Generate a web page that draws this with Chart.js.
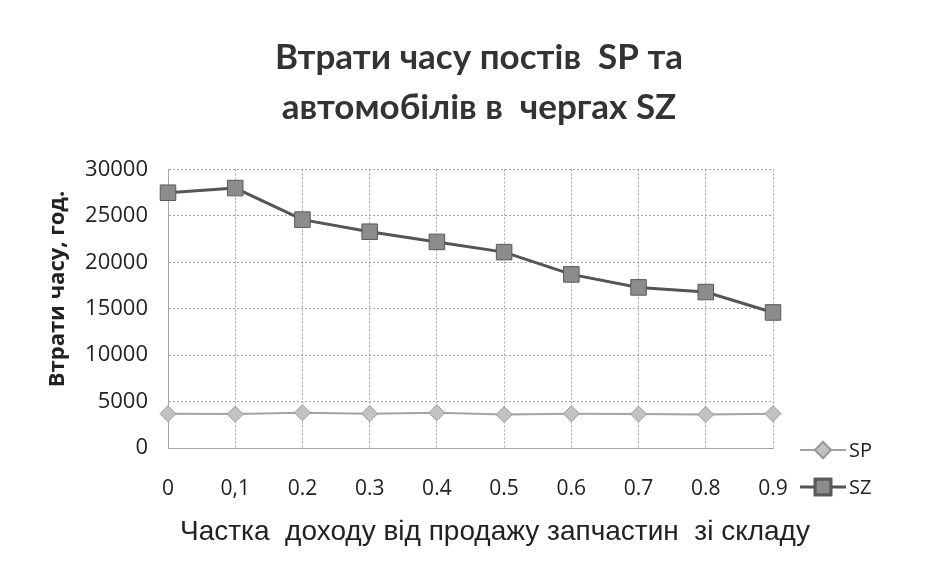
<!DOCTYPE html>
<html>
<head>
<meta charset="utf-8">
<script src="https://cdn.jsdelivr.net/npm/chart.js@4/dist/chart.umd.min.js"></script>
<style>
    html, body { margin: 0; padding: 0; background: #fff; }
    #wrap { width: 926px; height: 564px; }
</style>
</head>
<body>
<div id="wrap"><canvas id="lossChart" width="926" height="564"></canvas></div>
<script>
// x categories (labels kept as printed in the source, incl. "0,1")
const shares = ['0', '0,1', '0.2', '0.3', '0.4', '0.5', '0.6', '0.7', '0.8', '0.9'];
// time losses, hours
const spLoss = [3700, 3650, 3800, 3700, 3800, 3600, 3700, 3650, 3600, 3700];
const szLoss = [27500, 28000, 24600, 23300, 22200, 21100, 18700, 17300, 16800, 14600];
const titleLines = ['Втрати часу постів  SP та', 'автомобілів в  чергах SZ'];
const yTitle = 'Втрати часу, год.';
const xTitle = 'Частка  доходу від продажу запчастин  зі складу';

const gridColor = '#a5a5a5';

// axis titles are placed off-centre in the original, so they are drawn here
const axisTitles = {
    id: 'axisTitles',
    afterDraw(chart) {
        const { ctx } = chart;
        ctx.save();
        ctx.fillStyle = '#222';
        ctx.textAlign = 'center';
        ctx.textBaseline = 'middle';
        ctx.font = '28px "Liberation Sans"';
        ctx.fillText(xTitle, 495, 532);
        ctx.translate(58, 289);
        ctx.rotate(-Math.PI / 2);
        ctx.font = 'bold 22px "Open Sans"';
        ctx.fillText(yTitle, 0, 0);
        ctx.restore();
    }
};

// legend sits at the right, below the middle of the plot, like the original
const sideLegend = {
    id: 'sideLegend',
    afterDraw(chart) {
        const { ctx } = chart;
        const rows = [{ i: 0, y: 450 }, { i: 1, y: 487 }];
        ctx.save();
        rows.forEach(({ i, y }) => {
            const ds = chart.data.datasets[i];
            ctx.strokeStyle = ds.borderColor;
            ctx.lineWidth = ds.borderWidth;
            ctx.beginPath();
            ctx.moveTo(800, y);
            ctx.lineTo(846, y);
            ctx.stroke();
            Chart.helpers.drawPoint(ctx, {
                pointStyle: ds.pointStyle,
                radius: ds.pointRadius,
                borderWidth: 1,
                rotation: 0
            }, 823, y);
            ctx.fillStyle = ds.pointBackgroundColor;
            ctx.strokeStyle = ds.pointBorderColor;
            ctx.fill();
            ctx.stroke();
            ctx.fillStyle = '#222';
            ctx.font = '20px "Open Sans"';
            ctx.textBaseline = 'middle';
            ctx.fillText(ds.label, 849, y + 1);
        });
        ctx.restore();
    }
};

new Chart(document.getElementById('lossChart'), {
    type: 'line',
    data: {
        labels: shares,
        datasets: [
            {
                label: 'SP', data: spLoss,
                borderColor: '#a3a3a3', borderWidth: 2,
                pointStyle: 'rectRot', pointRadius: 8,
                pointBackgroundColor: '#c2c2c2', pointBorderColor: '#9a9a9a', pointBorderWidth: 1
            },
            {
                label: 'SZ', data: szLoss,
                borderColor: '#555', borderWidth: 3,
                pointStyle: 'rect', pointRadius: 11,
                pointBackgroundColor: '#8c8c8c', pointBorderColor: '#5a5a5a', pointBorderWidth: 1
            }
        ]
    },
    options: {
        responsive: false,
        animation: false,
        layout: { padding: { left: 32 } },
        plugins: {
            legend: { display: false },
            tooltip: { enabled: false },
            title: {
                display: true,
                text: titleLines,
                color: '#333',
                font: { family: 'Lato', weight: 'bold', size: 35, lineHeight: 1.45 },
                padding: { top: 32, bottom: 36 }
            }
        },
        scales: {
            x: {
                offset: false,
                afterFit: (s) => { s.height = 116; },
                grid: { color: gridColor, lineWidth: 1, drawTicks: false },
                border: { display: true, color: gridColor, dash: [2, 2] },
                ticks: { color: '#222', padding: 28, font: { family: 'Open Sans', size: 21 } }
            },
            y: {
                min: 0, max: 30000,
                afterFit: (s) => { s.width = 136; },
                grid: { color: gridColor, lineWidth: 1, drawTicks: false },
                border: { display: true, color: gridColor, dash: [2, 2] },
                ticks: {
                    stepSize: 5000, color: '#222', padding: 20,
                    font: { family: 'Open Sans', size: 22 },
                    callback: (v) => String(v)
                }
            },
            // empty strip on the right that holds the legend
            side: {
                type: 'linear', position: 'right',
                afterFit: (s) => { s.width = 153; },
                grid: { display: false }, border: { display: false }, ticks: { display: false }
            }
        }
    },
    plugins: [axisTitles, sideLegend]
});
</script>
</body>
</html>
